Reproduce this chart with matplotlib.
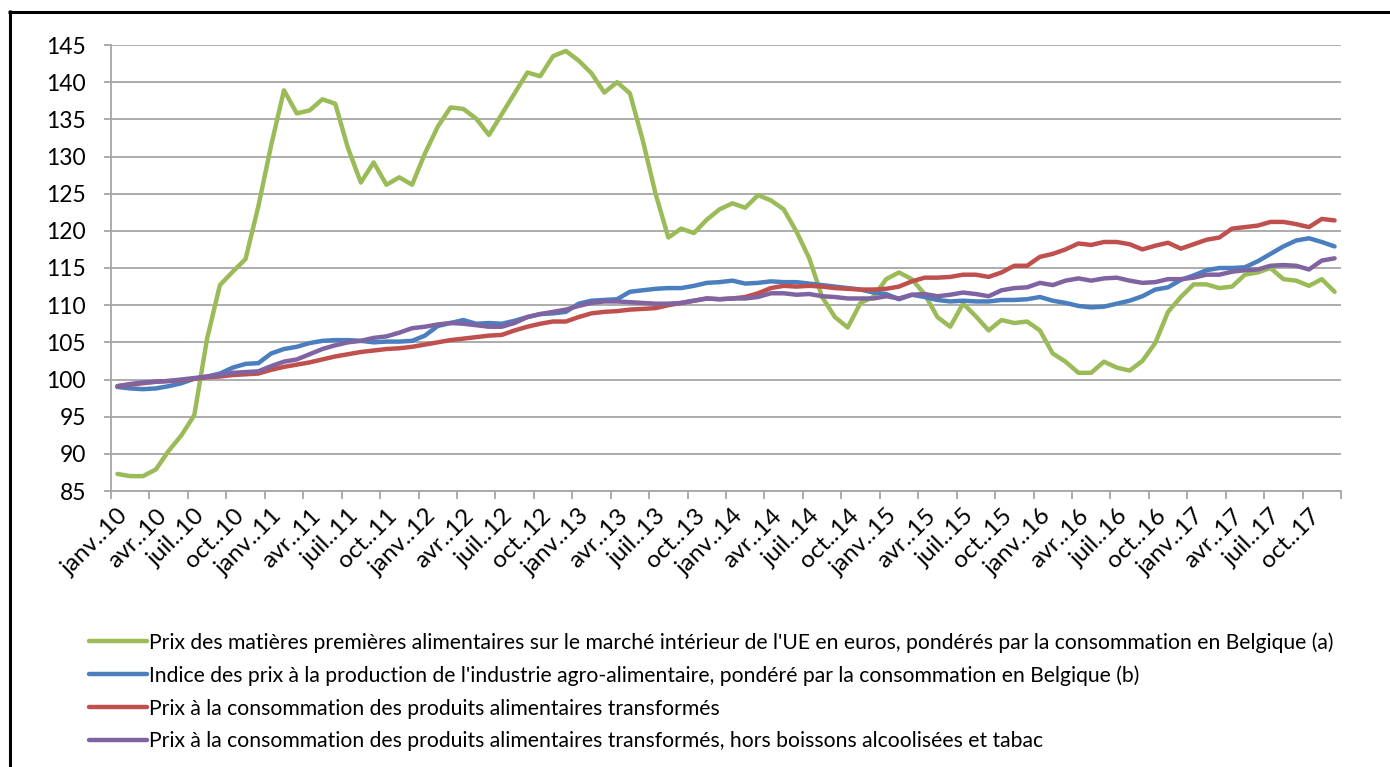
import numpy as np
import matplotlib
matplotlib.use("Agg")
import matplotlib.pyplot as plt
import matplotlib.transforms as mtransforms
from matplotlib.lines import Line2D

plt.rcParams['font.family'] = ['Lato', 'DejaVu Sans']

# monthly values, janv. 2010 -> déc. 2017
matieres = [87.3, 87.0, 87.0, 87.9, 90.4, 92.5, 95.2, 105.5, 112.7, 114.5, 116.2, 123.3,
            131.5, 138.9, 135.8, 136.2, 137.7, 137.1, 131.1, 126.5, 129.2, 126.2, 127.2, 126.2,
            130.4, 134.0, 136.6, 136.4, 135.1, 132.9, 135.7, 138.5, 141.3, 140.8, 143.5, 144.2,
            142.9, 141.2, 138.6, 140.0, 138.5, 132.2, 125.0, 119.1, 120.3, 119.7, 121.5, 122.9,
            123.7, 123.1, 124.8, 124.1, 122.9, 119.9, 116.3, 111.1, 108.4, 107.0, 110.3, 111.1,
            113.5, 114.4, 113.5, 111.5, 108.4, 107.1, 110.2, 108.5, 106.6, 108.0, 107.6, 107.8,
            106.6, 103.5, 102.4, 100.9, 100.9, 102.4, 101.6, 101.2, 102.5, 104.9, 109.1, 111.1,
            112.8, 112.8, 112.3, 112.5, 114.1, 114.4, 115.0, 113.5, 113.3, 112.6, 113.5, 111.8]

production = [99.0, 98.8, 98.7, 98.8, 99.1, 99.5, 100.1, 100.4, 100.8, 101.6, 102.1, 102.2,
              103.5, 104.1, 104.4, 104.9, 105.2, 105.3, 105.3, 105.2, 105.0, 105.1, 105.1, 105.2,
              105.9, 107.2, 107.6, 108.0, 107.5, 107.6, 107.5, 107.9, 108.4, 108.8, 108.9, 109.1,
              110.2, 110.6, 110.7, 110.8, 111.8, 112.0, 112.2, 112.3, 112.3, 112.6, 113.0, 113.1,
              113.3, 112.9, 113.0, 113.2, 113.1, 113.1, 112.9, 112.7, 112.5, 112.3, 112.1, 111.7,
              111.5, 110.8, 111.4, 111.1, 110.7, 110.5, 110.6, 110.5, 110.5, 110.7, 110.7, 110.8,
              111.1, 110.6, 110.3, 109.9, 109.7, 109.8, 110.2, 110.6, 111.2, 112.1, 112.4, 113.4,
              114.0, 114.7, 115.0, 115.0, 115.1, 115.9, 116.9, 117.9, 118.7, 119.0, 118.5, 117.9]

conso = [99.1, 99.3, 99.5, 99.7, 99.8, 99.9, 100.1, 100.3, 100.4, 100.6, 100.7, 100.8,
         101.3, 101.7, 102.0, 102.3, 102.7, 103.1, 103.4, 103.7, 103.9, 104.1, 104.2, 104.4,
         104.7, 105.0, 105.3, 105.5, 105.7, 105.9, 106.0, 106.6, 107.1, 107.5, 107.8, 107.8,
         108.4, 108.9, 109.1, 109.2, 109.4, 109.5, 109.6, 110.0, 110.3, 110.6, 110.9, 110.8,
         110.9, 111.1, 111.6, 112.3, 112.6, 112.5, 112.6, 112.5, 112.3, 112.2, 112.1, 112.1,
         112.2, 112.5, 113.2, 113.7, 113.7, 113.8, 114.1, 114.1, 113.8, 114.4, 115.3, 115.3,
         116.5, 116.9, 117.5, 118.3, 118.1, 118.5, 118.5, 118.2, 117.5, 118.0, 118.4, 117.6,
         118.2, 118.8, 119.1, 120.3, 120.5, 120.7, 121.2, 121.2, 120.9, 120.5, 121.6, 121.4]

conso_hors = [99.1, 99.4, 99.6, 99.7, 99.8, 100.0, 100.2, 100.4, 100.6, 100.9, 101.0, 101.1,
              101.8, 102.4, 102.7, 103.4, 104.1, 104.6, 105.0, 105.2, 105.6, 105.8, 106.3, 106.9,
              107.1, 107.4, 107.6, 107.5, 107.3, 107.1, 107.1, 107.6, 108.4, 108.8, 109.1, 109.4,
              109.9, 110.3, 110.5, 110.5, 110.4, 110.3, 110.2, 110.2, 110.3, 110.6, 110.9, 110.8,
              110.9, 110.9, 111.1, 111.6, 111.6, 111.4, 111.5, 111.2, 111.1, 110.9, 110.9, 110.9,
              111.2, 110.9, 111.4, 111.5, 111.2, 111.4, 111.7, 111.5, 111.2, 112.0, 112.3, 112.4,
              113.0, 112.7, 113.3, 113.6, 113.3, 113.6, 113.7, 113.3, 113.0, 113.1, 113.5, 113.5,
              113.7, 114.1, 114.1, 114.5, 114.7, 114.8, 115.3, 115.4, 115.3, 114.8, 116.0, 116.3]

mois = ['janv.', 'avr.', 'juil.', 'oct.']
annees = ['10', '11', '12', '13', '14', '15', '16', '17']
tick_labels = [m + '.' + a for a in annees for m in mois]

labels = [
    "Prix des matières premières alimentaires sur le marché intérieur de l'UE en euros, pondérés par la consommation en Belgique (a)",
    "Indice des prix à la production de l'industrie agro-alimentaire, pondéré par la consommation en Belgique (b)",
    "Prix à la consommation des produits alimentaires transformés",
    "Prix à la consommation des produits alimentaires transformés, hors boissons alcoolisées et tabac",
]
colors = ['#9BBB59', '#4A7EBF', '#C0504D', '#8064A2']

fig = plt.figure(figsize=(13.9, 7.67), dpi=100)
ax = fig.add_axes([111/1390, 1 - 491/767, (1341 - 111)/1390, (491 - 45)/767])

x = np.arange(len(matieres)) + 0.5
lines = []
for serie, col, lab in zip([matieres, production, conso, conso_hors], colors, labels):
    ln, = ax.plot(x, serie, color=col, lw=3.2, label=lab,
                  solid_capstyle='round', solid_joinstyle='round')
    lines.append(ln)

grid_col = '#A6A6A6'
fs = 15.2
ax.set_xlim(0, 96)
ax.set_ylim(85, 145)
ax.set_yticks(np.arange(85, 146, 5))
ax.yaxis.grid(True, color=grid_col, lw=1.3)
ax.set_axisbelow(True)
ax.set_xticks(np.arange(0, 97, 3))
ax.set_xticklabels([])
ax.set_xticks(np.arange(0, 96, 3) + 0.5, minor=True)
ax.set_xticklabels(tick_labels, minor=True, rotation=45, ha='right',
                   rotation_mode='anchor', fontsize=17.5)
shift = mtransforms.ScaledTranslation(7/100, 0, fig.dpi_scale_trans)
for t in ax.get_xticklabels(minor=True):
    t.set_transform(t.get_transform() + shift)
ax.tick_params(axis='x', which='major', length=6, width=1.3, color=grid_col, direction='out')
ax.tick_params(axis='x', which='minor', length=0, pad=10)
ax.tick_params(axis='y', length=5, width=1.3, color=grid_col, labelsize=16.5, pad=13)

for s in ['top', 'right']:
    ax.spines[s].set_visible(False)
for s in ['left', 'bottom']:
    ax.spines[s].set_color(grid_col)
    ax.spines[s].set_linewidth(1.3)

fig.legend(handles=lines, labels=labels, loc='upper left',
           bbox_to_anchor=(89/1390, 1 - 632/767), frameon=False,
           fontsize=fs, handlelength=2.75, handletextpad=0.1,
           labelspacing=0.6, borderaxespad=0, borderpad=0)

# black frame (top and left)
fig.add_artist(Line2D([8/1390, 1], [1 - 11.5/767, 1 - 11.5/767], color='black', lw=2.2,
                      transform=fig.transFigure, solid_capstyle='butt'))
fig.add_artist(Line2D([9.5/1390, 9.5/1390], [0, 1 - 10/767], color='black', lw=2.2,
                      transform=fig.transFigure, solid_capstyle='butt'))

fig.savefig('out.png', dpi=100, facecolor='white')
